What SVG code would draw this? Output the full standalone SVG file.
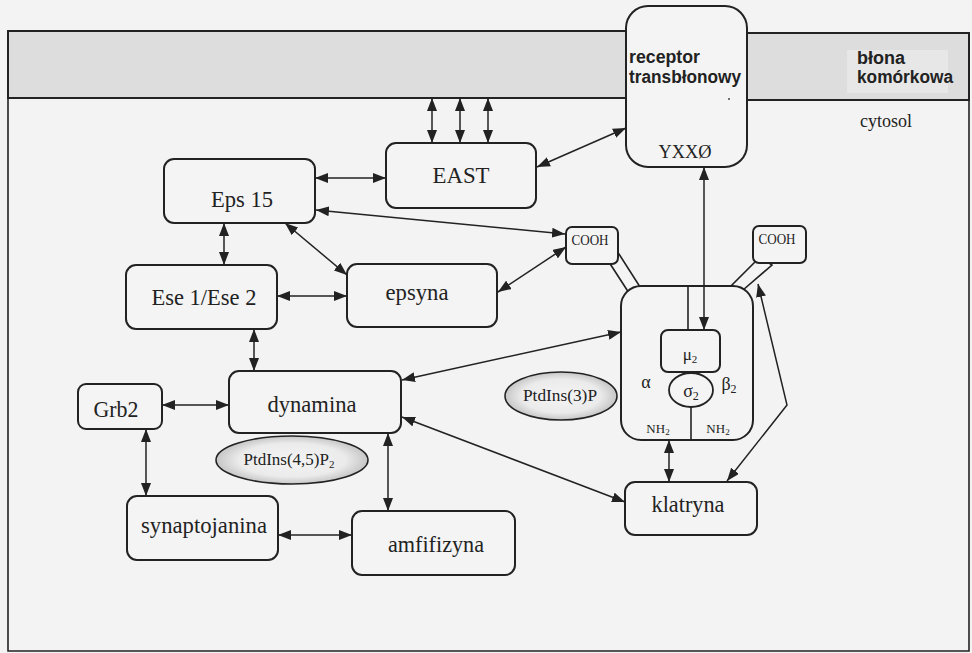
<svg xmlns="http://www.w3.org/2000/svg" width="972" height="653" viewBox="0 0 972 653">
<style>
.box{fill:#f4f4f4;stroke:#222;stroke-width:2}
.ln{fill:none;stroke:#222;stroke-width:1.6}
.arr{fill:none;stroke:#222;stroke-width:1.5;marker-start:url(#ah);marker-end:url(#ah)}
.t{font-family:"Liberation Serif","Times New Roman",serif;fill:#222;text-anchor:middle}
.big{font-size:24px}
.sm{font-size:14px}
.b{font-family:"Liberation Sans",Arial,sans-serif;font-weight:bold;font-size:18px;fill:#222}
.ell{fill:url(#eg);stroke:#222;stroke-width:1.6}
</style>
<defs>
<marker id="ah" viewBox="0 0 13 10" refX="13" refY="5" markerWidth="13" markerHeight="10" markerUnits="userSpaceOnUse" orient="auto-start-reverse">
<path d="M0,0 L13,5 L0,10 z" fill="#222"/>
</marker>
<radialGradient id="eg" cx="0.5" cy="0.5" r="0.5">
<stop offset="0" stop-color="#f4f4f4"/>
<stop offset="0.7" stop-color="#ebebeb"/>
<stop offset="1" stop-color="#c6c6c6"/>
</radialGradient>
</defs>
<rect x="0" y="0" width="972" height="653" fill="#f3f3f3"/>

<g id="membrane">
<rect x="8" y="31" width="618" height="67" fill="#dddddd" stroke="#222" stroke-width="2"/>
<rect x="747" y="33" width="222" height="67" fill="#dddddd" stroke="#222" stroke-width="2"/>
<rect x="847" y="50" width="101" height="43" fill="#e7e7e7"/>
<text class="b" x="857" y="64">błona</text>
<text class="b" x="857" y="83" textLength="96" lengthAdjust="spacingAndGlyphs">komórkowa</text>
<path class="ln" d="M8,98 V651 H969 V100" stroke-width="2"/>
<text class="t" x="886" y="127" font-size="18">cytosol</text>
</g>

<g id="receptor">
<rect class="box" x="626" y="6" width="121" height="161" rx="22" fill="#f6f6f6"/>
<text class="b" x="629" y="63" textLength="71" lengthAdjust="spacingAndGlyphs">receptor</text>
<text class="b" x="629" y="83" textLength="112" lengthAdjust="spacingAndGlyphs">transbłonowy</text>
<circle cx="729" cy="99" r="0.9" fill="#333"/>
<text class="t" x="685" y="158" font-size="18" fill="#444" textLength="53" lengthAdjust="spacingAndGlyphs">YXXØ</text>
</g>

<g id="connectors">
<line class="arr" x1="432" y1="98" x2="432" y2="143"/>
<line class="arr" x1="460" y1="98" x2="460" y2="143"/>
<line class="arr" x1="488" y1="98" x2="488" y2="143"/>
<line class="arr" x1="537" y1="167" x2="626" y2="128"/>
<line class="arr" x1="315" y1="178" x2="386" y2="178"/>
<line class="arr" x1="316" y1="210" x2="565" y2="234"/>
<line class="arr" x1="498" y1="292" x2="566" y2="247"/>
<line class="arr" x1="285" y1="223" x2="347" y2="275"/>
<line class="arr" x1="224" y1="223" x2="224" y2="265"/>
<line class="arr" x1="277" y1="296" x2="347" y2="296"/>
<line class="arr" x1="254" y1="329" x2="254" y2="371"/>
<line class="arr" x1="162" y1="405" x2="229" y2="405"/>
<line class="arr" x1="146" y1="429" x2="146" y2="496"/>
<line class="arr" x1="388" y1="433" x2="388" y2="511"/>
<line class="arr" x1="278" y1="535" x2="352" y2="535"/>
<line class="arr" x1="402" y1="380" x2="621" y2="332"/>
<line class="arr" x1="402" y1="417" x2="625" y2="502"/>
<line class="arr" x1="669" y1="440" x2="669" y2="482"/>
<polyline class="arr" points="727,481 787,405 758,284"/>
</g>

<g id="ap2">
<polygon points="607,259 619,254 642,290 629,293" fill="#f4f4f4" stroke="#222" stroke-width="1.6"/>
<polygon points="760,257 772,265 743,290 729,288" fill="#f4f4f4" stroke="#222" stroke-width="1.6"/>
<rect class="box" x="621" y="286" width="132" height="154" rx="20"/>
<line class="ln" x1="688" y1="286" x2="688" y2="330"/>
<line class="arr" x1="704" y1="167" x2="704" y2="330"/>
<rect class="box" x="661" y="330" width="59" height="42" rx="7"/>
<text class="t" x="690" y="360" font-size="17">μ<tspan font-size="11" dy="3">2</tspan></text>
<ellipse cx="691" cy="390" rx="22" ry="17" fill="#f4f4f4" stroke="#222" stroke-width="1.8"/>
<text class="t" x="691" y="397" font-size="18">σ<tspan font-size="12" dy="3">2</tspan></text>
<line class="ln" x1="691" y1="407" x2="691" y2="440"/>
<text class="t" x="646" y="388" font-size="18">α</text>
<text class="t" x="729" y="390" font-size="18">β<tspan font-size="12" dy="3">2</tspan></text>
<text class="t" x="658" y="433" font-size="13">NH<tspan font-size="9" dy="2">2</tspan></text>
<text class="t" x="718" y="433" font-size="13">NH<tspan font-size="9" dy="2">2</tspan></text>
</g>

<g id="cooh-left">
<rect class="box" x="566" y="227" width="52" height="37" rx="6" stroke-width="1.8"/>
<text class="t sm" x="590" y="245" textLength="37" lengthAdjust="spacingAndGlyphs">COOH</text>
</g>
<g id="cooh-right">
<rect class="box" x="753" y="226" width="53" height="37" rx="6" stroke-width="1.8"/>
<text class="t sm" x="777" y="244" textLength="37" lengthAdjust="spacingAndGlyphs">COOH</text>
</g>

<g id="east">
<rect class="box" x="386" y="143" width="150" height="65" rx="10"/>
<text class="t big" x="461" y="183" textLength="57" lengthAdjust="spacingAndGlyphs">EAST</text>
</g>
<g id="eps15">
<rect class="box" x="164" y="159" width="151" height="64" rx="10"/>
<text class="t big" x="242" y="207" textLength="62" lengthAdjust="spacingAndGlyphs">Eps 15</text>
</g>
<g id="ese">
<rect class="box" x="126" y="265" width="151" height="64" rx="10"/>
<text class="t big" x="204" y="305" textLength="105" lengthAdjust="spacingAndGlyphs">Ese 1/Ese 2</text>
</g>
<g id="epsyna">
<rect class="box" x="347" y="264" width="150" height="63" rx="10"/>
<text class="t big" x="417" y="300" textLength="63" lengthAdjust="spacingAndGlyphs">epsyna</text>
</g>
<g id="grb2">
<rect class="box" x="78" y="384" width="84" height="45" rx="8"/>
<text class="t big" x="116" y="417" textLength="45" lengthAdjust="spacingAndGlyphs">Grb2</text>
</g>
<g id="dynamina">
<rect class="box" x="229" y="371" width="172" height="62" rx="10"/>
<text class="t big" x="312" y="412" textLength="89" lengthAdjust="spacingAndGlyphs">dynamina</text>
</g>
<g id="ptdins45">
<ellipse class="ell" cx="292" cy="460" rx="76" ry="24"/>
<text class="t" x="289" y="465" font-size="17">PtdIns(4,5)P<tspan font-size="11" dy="3">2</tspan></text>
</g>
<g id="ptdins3">
<ellipse class="ell" cx="561" cy="396" rx="56" ry="24"/>
<text class="t" x="560" y="401" font-size="17" textLength="74" lengthAdjust="spacingAndGlyphs">PtdIns(3)P</text>
</g>
<g id="synaptojanina">
<rect class="box" x="127" y="496" width="151" height="64" rx="10"/>
<text class="t big" x="204" y="533" textLength="126" lengthAdjust="spacingAndGlyphs">synaptojanina</text>
</g>
<g id="amfifizyna">
<rect class="box" x="352" y="511" width="163" height="64" rx="10"/>
<text class="t big" x="436" y="552" textLength="96" lengthAdjust="spacingAndGlyphs">amfifizyna</text>
</g>
<g id="klatryna">
<rect class="box" x="625" y="482" width="132" height="53" rx="10"/>
<text class="t big" x="688" y="512" textLength="73" lengthAdjust="spacingAndGlyphs">klatryna</text>
</g>
</svg>
